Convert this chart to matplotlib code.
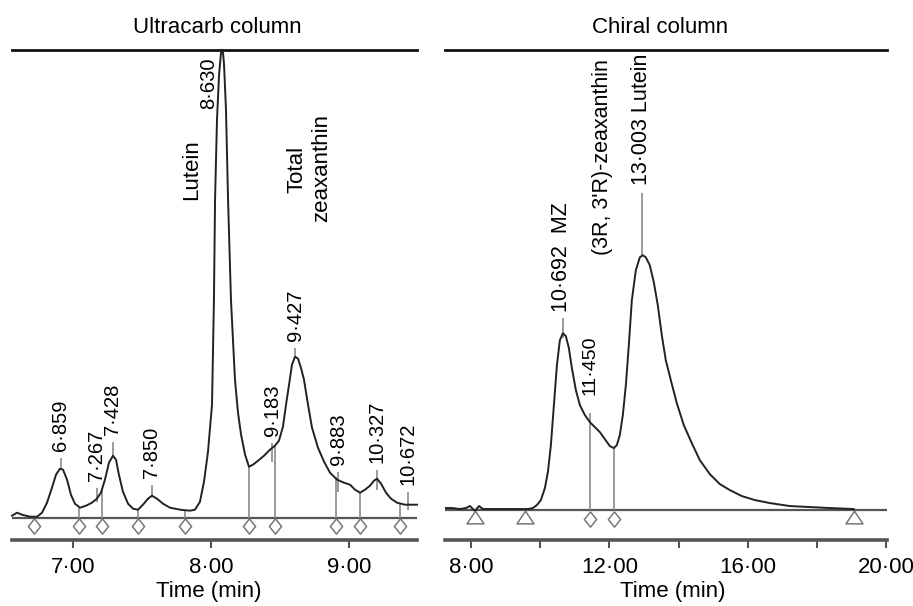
import matplotlib
matplotlib.use("Agg")
import matplotlib.pyplot as plt
from matplotlib.ticker import FixedLocator

plt.rcParams['font.family'] = ['Liberation Sans', 'DejaVu Sans']

# ---- Ultracarb column trace (time axis as printed, signal in arbitrary units)
uc_t = [6.561, 6.597, 6.633, 6.691, 6.742, 6.778, 6.814, 6.850, 6.879, 6.908,
        6.930, 6.959, 6.987, 7.016, 7.053, 7.096, 7.139, 7.175, 7.204, 7.233,
        7.262, 7.291, 7.313, 7.334, 7.363, 7.400, 7.436, 7.472, 7.508, 7.544,
        7.573, 7.609, 7.653, 7.703, 7.776, 7.848, 7.884, 7.920, 7.949, 7.978,
        8.007, 8.021, 8.029, 8.043, 8.058, 8.072, 8.079, 8.086, 8.094, 8.108,
        8.123, 8.144, 8.173, 8.195, 8.217, 8.246, 8.274, 8.303, 8.340, 8.383,
        8.426, 8.462, 8.491, 8.520, 8.542, 8.564, 8.585, 8.607, 8.629, 8.650,
        8.672, 8.701, 8.730, 8.773, 8.817, 8.860, 8.911, 8.961, 9.005, 9.041,
        9.077, 9.113, 9.149, 9.178, 9.200, 9.229, 9.265, 9.301, 9.345, 9.402,
        9.489]
uc_s = [2, 5, 3, 1, 1, 5, 15, 30, 43, 49,
        48, 38, 23, 14, 10, 12, 15, 19, 25, 38,
        55, 62, 58, 43, 26, 14, 9, 8, 13, 19,
        22, 19, 14, 10, 8, 7, 8, 16, 36, 66,
        113, 218, 318, 398, 443, 465, 468, 466, 453, 408,
        318, 218, 138, 105, 83, 63, 51, 53, 57, 62,
        68, 72, 77, 91, 113, 133, 153, 161, 159, 150,
        138, 113, 90, 70, 56, 45, 38, 35, 33, 28,
        25, 28, 32, 37, 39, 34, 25, 19, 15, 13,
        13]

# drop lines (integration boundaries)
uc_drop_t = [6.720, 7.045, 7.212, 7.472, 7.812, 8.274, 8.462, 8.904, 9.077, 9.366]
uc_drop_s = [0, 10, 28, 8, 8, 51, 72, 41, 25, 14]

# peak labels
uc_lab = ["6·859", "7·267", "7·428", "7·850", "9·183", "9·427", "9·883", "10·327", "10·672"]
uc_lab_t = [6.915, 7.175, 7.291, 7.573, 8.441, 8.607, 8.918, 9.200, 9.424]
uc_tick_lo = [48, 16, 61, 21, 56, 160, 26, 28, 8]
uc_tick_hi = [60, 30, 76, 33, 75, 170, 46, 48, 26]

# ---- Chiral column trace
ch_t = [7.249, 7.451, 7.682, 7.856, 7.971, 8.115, 8.231, 8.346, 8.548, 8.837,
        9.126, 9.415, 9.646, 9.790, 9.905, 10.021, 10.136, 10.223, 10.309, 10.396,
        10.483, 10.569, 10.656, 10.743, 10.829, 10.916, 11.031, 11.147, 11.291, 11.435,
        11.580, 11.724, 11.868, 12.013, 12.128, 12.215, 12.301, 12.388, 12.475, 12.561,
        12.648, 12.763, 12.879, 12.965, 13.052, 13.167, 13.283, 13.398, 13.514, 13.629,
        13.774, 13.947, 14.149, 14.380, 14.611, 14.900, 15.189, 15.478, 15.824, 16.199,
        16.632, 17.209, 17.787, 18.364, 19.057]
ch_s = [2, 2, 1, 2, 4, -1, 4, 1, 1, 1,
        1, 1, 1, 2, 5, 10, 22, 38, 65, 105,
        145, 170, 177, 174, 162, 142, 120, 105, 95, 88,
        83, 78, 71, 64, 62, 65, 75, 95, 125, 165,
        210, 240, 253, 255, 253, 245, 228, 205, 175, 150,
        130, 107, 85, 67, 50, 36, 26, 20, 14, 10,
        7, 4, 3, 2, 1]

ch_drop_t = [11.435, 12.128]
ch_drop_s = [97, 62]
ch_tri_t = [8.115, 9.559, 19.057]

ch_lab = ["10·692  MZ", "11·450", "(3R, 3'R)-zeaxanthin", "13·003 Lutein"]
ch_lab_t = [10.626, 11.435, 11.81, 12.936]
ch_lab_s = [198, 115, 255, 325]
ch_lab_size = [15.5, 14, 15.5, 15.5]
ch_tick_t = [10.656, 12.936]
ch_tick_lo = [172, 255]
ch_tick_hi = [192, 317]

line_col = "#222222"
grey = "#8a8a8a"
axis_col = "#555555"
diamond = [(0, 1), (0.8, 0), (0, -1), (-0.8, 0), (0, 1)]
triangle = [(0, 0.75), (1, -0.75), (-1, -0.75), (0, 0.75)]

fig = plt.figure(figsize=(9.13, 6.06), dpi=100)
ax1 = fig.add_axes([12 / 913, 66 / 606, 405 / 913, 490.5 / 606])
ax2 = fig.add_axes([445 / 913, 66 / 606, 442 / 913, 490.5 / 606])


def style_axes(ax):
    for side in ["left", "right"]:
        ax.spines[side].set_visible(False)
    ax.spines["top"].set_linewidth(2.0)
    ax.spines["top"].set_color("#111111")
    ax.spines["bottom"].set_linewidth(2.6)
    ax.spines["bottom"].set_color(axis_col)
    ax.set_yticks([])
    ax.tick_params(axis="x", which="both", direction="out", length=6, width=1.5,
                   color=axis_col, pad=6, labelsize=16)
    ax.axhline(0, color=axis_col, lw=1.6, zorder=1)


# ---------------- Ultracarb
style_axes(ax1)
ax1.set_xlim(6.561, 9.489)
ax1.set_ylim(-22.3, 468.2)
ax1.plot(uc_t, uc_s, color=line_col, lw=1.4, zorder=3, clip_on=False)
ax1.vlines(uc_drop_t, 0, uc_drop_s, color=grey, lw=1.2, zorder=2)
ax1.plot(uc_drop_t, [-8] * len(uc_drop_t), ls="none", marker=diamond, ms=11,
         mfc="white", mec="#777777", mew=1.1, zorder=4)
ax1.vlines(uc_lab_t, uc_tick_lo, uc_tick_hi, color=grey, lw=1.2, zorder=2)
for lab, t, hi in zip(uc_lab, uc_lab_t, uc_tick_hi):
    ax1.annotate(lab, (t, hi), xytext=(0, 5), textcoords="offset points",
                 rotation=90, ha="center", va="bottom", fontsize=14.5)
ax1.text(7.985, 460, "8·630", rotation=90, ha="center", va="top", fontsize=14.5)
ax1.text(7.862, 318, "Lutein", rotation=90, ha="center", va="bottom", fontsize=16)
ax1.text(8.622, 325, "Total", rotation=90, ha="center", va="bottom", fontsize=16)
ax1.text(8.802, 296, "zeaxanthin", rotation=90, ha="center", va="bottom", fontsize=16)

ax1.xaxis.set_major_locator(FixedLocator([7, 8, 9]))
ax1.set_xticklabels(["7·00", "8·00", "9·00"])
ax1.text(0.506, 1.044, "Ultracarb column", transform=ax1.transAxes,
         ha="center", va="center", fontsize=16)
ax1.set_xlabel("Time (min)", fontsize=16)
ax1.xaxis.set_label_coords(0.486, -0.106)
ax1.xaxis.label.set_va("center")

# ---------------- Chiral
style_axes(ax2)
ax2.set_xlim(7.25, 20.02)
ax2.set_ylim(-30, 461)
ax2.plot(ch_t, ch_s, color=line_col, lw=1.4, zorder=3)
ax2.vlines(ch_drop_t, 0, ch_drop_s, color=grey, lw=1.2, zorder=2)
ax2.vlines(ch_tick_t, ch_tick_lo, ch_tick_hi, color=grey, lw=1.2, zorder=2)
ax2.plot(ch_drop_t, [-9] * len(ch_drop_t), ls="none", marker=diamond, ms=11,
         mfc="white", mec="#777777", mew=1.1, zorder=4)
ax2.plot(ch_tri_t, [-6.5] * len(ch_tri_t), ls="none", marker=triangle, ms=12.2,
         mfc="white", mec="#777777", mew=1.1, zorder=4)
for lab, t, s, fs in zip(ch_lab, ch_lab_t, ch_lab_s, ch_lab_size):
    ax2.text(t, s, lab, rotation=90, ha="center", va="bottom", fontsize=fs)

ax2.xaxis.set_major_locator(FixedLocator([8, 12, 16, 20]))
ax2.xaxis.set_minor_locator(FixedLocator([10, 14, 18]))
ax2.set_xticklabels(["8·00", "12·00", "16·00", "20·00"])
ax2.text(0.486, 1.044, "Chiral column", transform=ax2.transAxes,
         ha="center", va="center", fontsize=16)
ax2.set_xlabel("Time (min)", fontsize=16)
ax2.xaxis.set_label_coords(0.516, -0.106)
ax2.xaxis.label.set_va("center")

fig.savefig("out.png", dpi=100)
